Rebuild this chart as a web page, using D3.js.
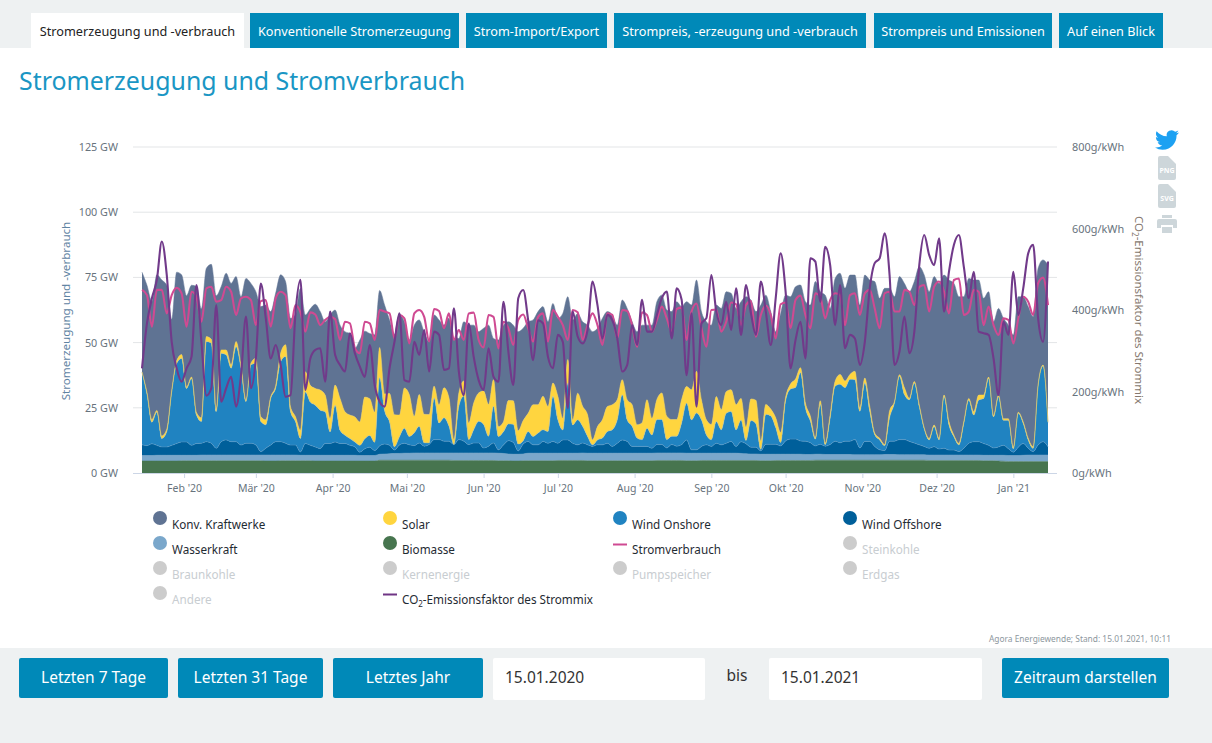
<!DOCTYPE html>
<html>
<head>
<meta charset="utf-8">
<title>Stromerzeugung und Stromverbrauch</title>
<script src="https://cdn.jsdelivr.net/npm/d3@7"></script>
<style>
  html, body { margin: 0; padding: 0; background: #fff; }
  svg { display: block; }
  text { font-family: "Noto Sans", sans-serif; }
</style>
</head>
<body>
<div id="chart"></div>
<script>
// values, one reading every 2 days from 15.01.2020 on

// GW
let biomasse = [
  4.6,4.6,4.6,4.6,4.6,4.6,4.6,4.6,4.7,4.7, 4.7,4.7,4.7,4.7,4.7,4.7,4.7,4.7,4.7,4.7,
  4.7,4.7,4.7,4.7,4.7,4.6,4.6,4.6,4.7,4.7, 4.7,4.7,4.7,4.7,4.7,4.6,4.6,4.6,4.6,4.6,
  4.6,4.6,4.6,4.6,4.6,4.6,4.6,4.6,4.9,4.9, 4.9,4.9,4.9,4.9,4.9,4.9,4.9,4.9,4.9,4.9,
  4.9,4.9,4.9,4.8,4.8,4.8,4.8,4.8,4.8,4.8, 4.8,4.8,4.7,4.7,4.7,4.6,4.6,4.7,4.7,4.7,
  4.7,4.7,4.7,4.7,4.8,4.8,4.8,4.8,4.8,4.8, 4.7,4.7,4.7,4.7,4.7,4.7,4.7,4.7,4.7,4.7,
  4.7,4.7,4.7,4.7,4.8,4.8,4.8,4.8,4.8,4.8, 4.7,4.7,4.7,4.8,4.8,4.8,4.8,4.8,4.8,4.8,
  4.8,4.8,4.8,4.8,4.8,4.7,4.7,4.7,4.8,4.8, 4.8,4.8,4.8,4.8,4.8,4.8,4.9,4.9,4.9,4.9,
  4.9,4.9,4.9,4.9,4.9,4.9,4.9,4.9,4.9,4.9, 4.9,4.9,4.9,4.9,4.9,4.9,4.9,4.9,4.9,4.8,
  4.8,4.8,4.8,4.8,4.8,4.8,4.8,4.8,4.8,4.8, 4.7,4.7,4.7,4.6,4.5,4.4,4.4,4.4,4.4,4.4,
  4.4,4.4,4.4,4.4
]
let wasserkraft = [
  2.1,2.1,2.1,2.2,2.2,2.2,2.2,2.2,2.1,2.1, 2.1,2.1,2.2,2.2,2.2,2.2,2.2,2.2,2.2,2.2,
  2.2,2.2,2.2,2.2,2.2,2.3,2.3,2.3,2.2,2.2, 2.2,2.2,2.1,2.1,2.1,2.2,2.2,2.2,2.2,2.2,
  2.2,2.2,2.2,2.2,2.1,2.1,2.1,2.1,2.3,2.4, 2.5,2.6,2.6,2.7,2.7,2.8,2.8,2.8,2.8,2.8,
  2.8,2.8,2.8,2.9,2.9,2.9,2.9,2.9,2.9,2.9, 2.9,2.9,2.9,2.8,2.6,2.6,2.6,2.6,2.9,2.9,
  2.9,2.9,2.9,2.9,2.8,2.8,2.8,2.8,2.8,2.9, 2.9,2.9,2.9,2.9,2.9,2.9,2.9,2.9,2.9,2.9,
  2.9,2.9,2.9,2.9,2.9,2.9,2.9,2.9,2.9,2.9, 2.9,2.9,2.9,2.8,2.8,2.8,2.8,2.8,2.8,2.8,
  2.8,2.7,2.6,2.5,2.5,2.5,2.5,2.5,2.4,2.4, 2.4,2.4,2.4,2.4,2.3,2.3,2.3,2.3,2.2,2.2,
  2.2,2.2,2.2,2.2,2.1,2.1,2.1,2.1,2.1,2.1, 2.2,2.2,2.2,2.1,2.1,2.1,2.1,2.1,2.1,2.1,
  2.1,2.1,2.1,2.1,2.1,2.1,2.1,2.1,2.1,2.1, 2.1,2.1,2.1,2.2,2.3,2.3,2.3,2.3,2.4,2.5,
  2.5,2.5,2.5,2.5
]
let windOffshore = [
  4.1,3.8,4.5,3.8,3.2,3.2,3.8,4.5,5.1,5.1, 3.8,4.5,4.5,5.1,4.5,2.6,5.1,5.8,5.1,5.1,
  3.8,4.5,4.5,3.8,1.3,2.6,3.8,5.1,5.1,4.5, 3.8,3.8,1.3,4.5,3.8,3.2,2.6,4.5,4.5,5.1,
  4.5,4.5,3.8,3.2,1.3,2.6,3.2,1.9,3.2,3.8, 3.2,1.3,3.2,3.8,3.2,2.8,3.8,2.6,3.2,5.1,
  5.1,4.5,4.5,3.2,5.1,4.5,3.2,3.8,3.8,1.9, 2.6,3.8,1.3,3.2,5.1,4.5,1.3,3.8,4.5,3.2,
  3.2,4.5,3.8,4.5,3.8,5.1,5.1,3.8,3.2,3.8, 3.2,2.6,3.2,3.2,3.8,2.6,3.8,5.1,4.5,2.6,
  2.6,2.6,2.6,1.9,3.2,3.2,1.9,3.2,2.6,3.2, 5.1,1.3,1.3,2.6,3.2,2.6,3.8,3.2,3.8,4.5,
  2.6,4.5,3.8,2.6,2.6,1.3,3.8,3.8,3.8,3.2, 5.1,5.8,5.8,5.1,5.1,4.5,3.2,3.8,3.2,3.8,
  5.1,4.5,5.1,5.1,5.8,2.6,5.1,5.1,3.2,1.9, 1.5,5.1,5.1,5.8,5.8,5.1,4.5,3.8,3.2,2.6,
  3.2,2.3,2.6,1.9,1.9,1.3,2.6,4.5,5.1,5.1, 4.5,3.8,2.8,3.2,3.8,2.6,1.3,3.2,4.5,2.6,
  1.3,3.8,5.1,3.2
]
let windOnshore = [
  27.9,19.8,8.3,12.8,3.2,5.8,20.5,30.7,32,20.5, 25.6,10.9,8.3,38.4,38.4,14.1,33.9,32.6,28.2,36.5,
  29.4,16,30.1,31.4,11.5,9,17.9,20.5,30.7,33.3, 12.8,9,5.1,19.8,16.6,16,14.7,12.2,4.5,14.1,
  5.1,3.2,2.6,1.9,2.6,3.8,4.5,3.2,26.2,12.8, 9,1.3,3.2,5.8,3.2,4.9,6.4,1.3,.6,16,
  6.4,9,5.8,0,12.8,17.3,1.9,5.1,8.3,9, 3.8,14.1,5.1,5.1,6.4,7,2.6,1.3,3.8,3.2,
  4.5,4.5,4.5,17.3,9,3.8,21.8,7,9.6,6.4, 3.2,.6,1.9,2.6,4.5,6.4,9,17.3,8.3,7.7,
  3.2,2.6,7,5.1,9.6,9.6,3.2,3.2,3.8,8.3, 14.1,11.5,14.1,10.2,3.8,2.6,8.3,5.8,11.5,11.5,
  6.4,8.3,1.3,10.2,9,.6,11.5,10.9,6.4,1.3, 15.4,19.2,19.8,26.2,12.8,8.3,2.6,15.4,.6,10.2,
  21.1,22.4,20.5,23.7,23,14.1,22.4,11.5,4.5,3.8, 1.9,9,14.7,24.3,17.3,16,23,14.7,6.7,3.2,
  7.7,3.5,19.8,9.6,5.1,2.6,9.6,16.6,10.2,16, 17.3,25.6,11.9,19.2,9.6,10.9,1.3,13,7.7,3.2,
  1.3,22.7,29,9.2
]
let solar = [
  0,.6,1,.6,1,1,.4,1,1.5,.6, .6,1,1.5,1.9,1.5,1,1.3,1.9,1.3,1.9,
  1,.6,.6,1.9,1.9,1.9,.6,1,3.2,4.5, 1.9,1.9,3.2,7.7,6.4,6.4,7.7,6.4,5.1,7.7,
  12.2,9,9,9.6,9,16,14.1,11.5,11.5,6.4, 10.9,12.2,8.3,15.4,16,6.4,12.2,10.9,10.9,4.5,
  7,11.5,10.9,1.9,5.1,5.8,6.4,10.2,10.9,12.8, 12.2,10.2,3.8,3.8,9,9,5.1,7.7,7,12.2,
  10.9,12.8,9.6,5.1,9,4.5,9,1.9,10.2,7.7, 8.3,1.9,5.1,7,9.6,9.6,7.7,5.8,7.7,8.3,
  5.1,6.4,10.9,6.4,7.7,10.2,9,6.4,6.4,9, 6.4,11.5,16,7.7,5.8,5.8,9.6,7.7,8.3,8.3,
  9.6,8.3,5.1,8.3,9,3.2,3.8,2.6,3.8,3.8, 1.3,1.9,3.2,1.9,1.9,1.9,.6,1.3,.6,1.3,
  1.9,3.8,2.6,1.9,3.2,1.3,1.9,1.9,.6,.6, .4,2.6,.6,.6,2.6,.6,.6,.6,.4,.6,
  .6,.6,.6,1.3,.6,.6,.6,.6,1.3,1.9, 1.3,.6,.6,.6,.6,.6,.6,.4,.6,.6,
  .6,.4,.4,.4
]
// top edge of the whole stack, the grey layer is what is left up to here
let gesamt = [
  77,72,65.7,76,74,72,59,77,76,68, 72,71.5,63,78.5,80,68,71.5,76.6,72.7,75.3,
  67.6,74.6,72.7,69.5,63.8,64.4,61.9,69,76,73.4, 59.3,60.6,70.8,60.6,63,64.7,61.9,58,60.6,62.5,
  56.7,54.2,53.5,47.8,51,54.4,53.5,53,70,64.4, 58.7,53,60.6,58,51,56.7,58.7,54,50.4,60.6,
  58.7,56.7,59.3,51.6,51.6,58,56.7,56.7,54.2,55.5, 56.7,51.6,51,56.7,58,56.7,54.2,55.5,58,58.7,
  61.9,63.8,58,65,59.3,61.2,67.6,58.7,61.2,58, 56.7,54.2,55.5,59.3,61.9,60.6,56.7,66.3,63.1,58,
  54.2,56.7,56.7,56.7,65.7,68.2,62.5,61.9,65.7,63.8, 65.7,64.4,74,61.9,58,56.7,64.4,63.1,69.5,68.9,
  63.1,65.7,67.6,66.3,61.9,64.4,68.2,61.9,54.2,61.2, 68.2,67.6,71.4,72.1,65.7,64.4,73.4,69.5,68.2,63.1,
  74.6,76.6,70.8,75.9,75.9,64.4,75.9,74,73.4,67, 70.8,70.8,67.6,75.3,72.7,69.5,73.4,79.1,75.9,69.5,
  75.3,72.7,75.9,74,72.7,67.6,67.6,74.6,74,74, 67,69.5,58,63.1,59.3,56.7,52.9,67.6,67.6,63.8,
  59.9,78.5,81.7,79.7
]
let stromverbrauch = [
  70.2,68.2,56.1,70.2,70.2,61.2,68.2,71,68.9,56.1, 69.5,67.6,58,70.8,71.4,65.7,66.3,71.4,69.5,60.6,
  67,67.6,66.3,56.7,65.9,66.3,56.1,67,69.5,68.2, 55.5,64.4,61.6,54.2,61.6,60.8,56.7,58.7,59.9,59,
  51,58,57.4,47.8,45.9,58,57.4,51,62.5,61.9, 61.2,51.6,60.6,59.3,49.7,61.2,62.5,59.9,50.4,62.9,
  62.1,55.5,61.2,51,54.8,51,61.2,61.5,51,48.1, 60.6,59.9,47.8,58,55.5,49.1,58.7,60.8,55.5,50.4,
  59.9,61.2,50.4,62.5,59.9,56.7,51,62.5,61.6,51, 56.7,61.2,56.7,49.1,61.2,60.6,51.6,62.5,62.1,56.7,
  48.4,61.6,60.6,54.2,58.7,63.8,59.3,54.2,62.9,63.4, 51,61.9,65,55.5,48.4,62.5,62.7,54.2,58,65.4,
  64.7,56.7,64.4,65.9,52.3,60.6,64.2,60.6,51.6,64.7, 65.4,55.5,66.3,68,60.6,55.5,68.9,67.6,59.3,66.3,
  68.9,68.2,56.7,68.2,68.9,60.6,68.9,70.2,63.1,55.5, 68.9,69.5,61.9,61.9,70.2,69.5,64.4,71.4,72.1,61.9,
  71.4,73.4,69.5,61.2,74,74.6,60.6,61.9,70.2,69.5, 56.7,63.8,56.7,52.9,59.3,58.7,49.7,59.3,67.6,65.7,
  60.6,72.7,74.9,64.4
]
// g/kWh
let co2Faktor = [
  257,367,429,474,568,486,322,257,224,257, 285,461,322,190,208,412,175,208,236,163,
  240,384,208,281,465,380,281,314,265,187, 191,392,474,204,281,302,306,224,396,290,
  265,249,343,294,261,236,314,216,175,163, 257,322,392,228,224,322,290,351,249,347,
  339,253,257,404,249,191,367,285,228,204, 306,236,224,420,298,216,429,449,375,277,
  375,367,285,257,339,322,159,396,335,318, 351,470,412,330,388,375,330,249,265,363,
  314,425,347,347,388,429,445,330,453,425, 240,392,163,367,380,486,396,363,420,351,
  453,339,461,392,339,470,396,314,429,539, 445,257,326,371,281,527,519,420,555,510,
  363,461,306,339,330,265,322,453,515,527, 588,486,265,298,384,294,347,510,584,535,
  510,576,396,494,560,584,506,429,494,347, 343,339,281,191,371,339,494,388,453,539,
  560,380,322,519
]

let monthLabels = ["Feb '20","Mär '20","Apr '20","Mai '20","Jun '20","Jul '20","Aug '20","Sep '20","Okt '20","Nov '20","Dez '20","Jan '21"]
let gwTicks = [0, 25, 50, 75, 100, 125]
let co2Ticks = [0, 200, 400, 600, 800]
let tabLabels = ["Stromerzeugung und -verbrauch","Konventionelle Stromerzeugung","Strom-Import/Export","Strompreis, -erzeugung und -verbrauch","Strompreis und Emissionen","Auf einen Blick"]
let tabEdges = [[31,244],[250,459],[466,607],[614,866],[874,1052],[1059,1163]]

let layerKeys = ["biomasse","wasser","offshore","onshore","solar","konv"]
let layerColors = {biomasse:"#47754f", wasser:"#7aa7cb", offshore:"#005f9a", onshore:"#2083c1", solar:"#ffd53f", konv:"#5f7393"}
let layerEdges = {biomasse:"#47754f", wasser:"#7aa7cb", offshore:"#5c98c4", onshore:"#a3b9a8", solar:"#ffd53f", konv:"#5f7393"}

let legendCols = [160, 390, 620, 850]
let legendRows = [518, 543, 568, 593]
let legendItems = [
  {name:"Konv. Kraftwerke", color:"#5f7393", col:0, row:0},
  {name:"Solar", color:"#ffd53f", col:1, row:0},
  {name:"Wind Onshore", color:"#2083c1", col:2, row:0},
  {name:"Wind Offshore", color:"#005f9a", col:3, row:0},
  {name:"Wasserkraft", color:"#7aa7cb", col:0, row:1},
  {name:"Biomasse", color:"#47754f", col:1, row:1},
  {name:"Stromverbrauch", color:"#cf4a92", col:2, row:1, line:true},
  {name:"Steinkohle", col:3, row:1},
  {name:"Braunkohle", col:0, row:2},
  {name:"Kernenergie", col:1, row:2},
  {name:"Pumpspeicher", col:2, row:2},
  {name:"Erdgas", col:3, row:2},
  {name:"Andere", col:0, row:3},
  {name:"-Emissionsfaktor des Strommix", color:"#6f3585", col:1, row:3, line:true, co2:true}
]

// Settting up svg canvas
let svgWidth = 1212
let svgHeight = 743
let svg = d3.select("#chart").append("svg").attr("width", svgWidth).attr("height", svgHeight)

let teal = "#0089b8"
let pale = "#eef1f2"

// header and footer bands
svg.append("rect").attr("width", svgWidth).attr("height", 48).attr("fill", pale)
svg.append("rect").attr("y", 648).attr("width", svgWidth).attr("height", 95).attr("fill", pale)

tabLabels.forEach((label, i) => {
  let [x0, x1] = tabEdges[i]
  svg.append("rect").attr("x", x0).attr("y", 13).attr("width", x1 - x0).attr("height", 35)
    .attr("fill", i == 0 ? "#fff" : teal)
  svg.append("text").attr("x", (x0 + x1) / 2).attr("y", 36).attr("text-anchor", "middle")
    .attr("font-size", 12.7).attr("fill", i == 0 ? "#222" : "#fff").text(label)
})

svg.append("text").attr("x", 19).attr("y", 90).attr("font-size", 24.9).attr("fill", "#1a96c4")
  .text("Stromerzeugung und Stromverbrauch")

/* CHART */
let startDay = new Date(2020, 0, 15)
let days = stromverbrauch.map((v, i) => d3.timeDay.offset(startDay, i * 2))

let x = d3.scaleTime().domain([startDay, days[days.length - 1]]).range([142, 1048])
let y = d3.scaleLinear().domain([0, 125]).range([473, 147])
let yCo2 = d3.scaleLinear().domain([0, 800]).range([473, 147])

// grid
svg.append("g").selectAll("line").data(gwTicks.slice(1)).join("line")
  .attr("x1", 133).attr("x2", 1057).attr("y1", d => y(d)).attr("y2", d => y(d))
  .attr("stroke", "#e3e5e7")

let rows = days.map((d, i) => ({
  day: d,
  biomasse: biomasse[i],
  wasser: wasserkraft[i],
  offshore: windOffshore[i],
  onshore: windOnshore[i],
  solar: solar[i],
  konv: Math.max(0, gesamt[i] - biomasse[i] - wasserkraft[i] - windOffshore[i] - windOnshore[i] - solar[i])
}))

let curve = d3.curveMonotoneX
let stacked = d3.stack().keys(layerKeys)(rows)
let area = d3.area().curve(curve).x(d => x(d.data.day)).y0(d => y(d[0])).y1(d => y(d[1]))
let topEdge = d3.line().curve(curve).x(d => x(d.data.day)).y(d => y(d[1]))

svg.append("g").selectAll("path").data(stacked).join("path")
  .attr("d", area).attr("fill", d => layerColors[d.key])
svg.append("g").selectAll("path").data(stacked).join("path")
  .attr("d", topEdge).attr("fill", "none").attr("stroke", d => layerEdges[d.key]).attr("stroke-width", 0.5)

let demandLine = d3.line().curve(curve).x((d, i) => x(days[i])).y(d => y(d))
svg.append("path").attr("d", demandLine(stromverbrauch)).attr("fill", "none")
  .attr("stroke", "#cf4a92").attr("stroke-width", 2.1).attr("stroke-linejoin", "round")

let co2Line = d3.line().curve(curve).x((d, i) => x(days[i])).y(d => yCo2(d))
svg.append("path").attr("d", co2Line(co2Faktor)).attr("fill", "none")
  .attr("stroke", "#713a8a").attr("stroke-width", 2.1).attr("stroke-linejoin", "round")

// axes
let monthTicks = d3.timeMonth.range(new Date(2020, 1, 1), new Date(2021, 1, 1))
let xAxis = svg.append("g").attr("transform", "translate(0,473)")
  .call(d3.axisBottom(x).tickValues(monthTicks).tickSize(5).tickPadding(7)
    .tickFormat((d, i) => monthLabels[i]))
xAxis.select(".domain").remove()
xAxis.selectAll("line").attr("stroke", "#ccd6e6")
xAxis.selectAll("text").attr("font-size", 10.5).attr("fill", "#67737d").attr("font-family", '"Noto Sans", sans-serif')
svg.append("line").attr("x1", 133).attr("x2", 1057).attr("y1", 473.5).attr("y2", 473.5).attr("stroke", "#ccd6e6")

let yAxis = svg.append("g").attr("transform", "translate(118,0)")
  .call(d3.axisLeft(y).tickValues(gwTicks).tickSize(0).tickPadding(0).tickFormat(d => d + " GW"))
yAxis.select(".domain").remove()
yAxis.selectAll("text").attr("font-size", 10.8).attr("fill", "#67737d").attr("font-family", '"Noto Sans", sans-serif')

let yAxisRight = svg.append("g").attr("transform", "translate(1072,0)")
  .call(d3.axisRight(yCo2).tickValues(co2Ticks).tickSize(0).tickPadding(0).tickFormat(d => d + "g/kWh"))
yAxisRight.select(".domain").remove()
yAxisRight.selectAll("text").attr("font-size", 10.9).attr("fill", "#67737d").attr("font-family", '"Noto Sans", sans-serif')

svg.append("text").attr("transform", "translate(70,311) rotate(-90)").attr("text-anchor", "middle")
  .attr("font-size", 11.6).attr("fill", "#5f84a3").text("Stromerzeugung und -verbrauch")

let rightTitle = svg.append("text").attr("transform", "translate(1135,310) rotate(90)").attr("text-anchor", "middle")
  .attr("font-size", 11.5).attr("fill", "#85786e")
rightTitle.append("tspan").text("CO")
rightTitle.append("tspan").attr("font-size", 8).attr("dy", 3).text("2")
rightTitle.append("tspan").attr("dy", -3).text("-Emissionsfaktor des Strommix")

/* LEGEND */
legendItems.forEach(item => {
  let cx = legendCols[item.col]
  let cy = legendRows[item.row]
  if (item.line) {
    let lx = cx - 7
    svg.append("line").attr("x1", lx).attr("x2", lx + 14).attr("y1", cy + 1.5).attr("y2", cy + 1.5)
      .attr("stroke", item.color).attr("stroke-width", 2)
  } else {
    svg.append("circle").attr("cx", cx).attr("cy", cy).attr("r", 7).attr("fill", item.color || "#cccccc")
  }
  let label = svg.append("text").attr("x", cx + 12).attr("y", cy + 11).attr("font-size", 11.7)
    .attr("fill", item.color ? "#1f2b33" : "#c8cdd1")
  if (item.co2) {
    label.append("tspan").text("CO")
    label.append("tspan").attr("font-size", 8).attr("dy", 3).text("2")
    label.append("tspan").attr("dy", -3).text(item.name)
  } else {
    label.text(item.name)
  }
})

svg.append("text").attr("x", 1171).attr("y", 642).attr("text-anchor", "end").attr("font-size", 8.4)
  .attr("fill", "#8d979e").text("Agora Energiewende; Stand: 15.01.2021, 10:11")

/* ICONS */
let icons = svg.append("g")
icons.append("path").attr("transform", "translate(1155,128) scale(1)")
  .attr("fill", "#1da1f2")
  .attr("d", "M23.953 4.57a10 10 0 01-2.825.775 4.958 4.958 0 002.163-2.723c-.951.555-2.005.959-3.127 1.184a4.92 4.92 0 00-8.384 4.482C7.69 8.095 4.067 6.13 1.64 3.162a4.822 4.822 0 00-.666 2.475c0 1.71.87 3.213 2.188 4.096a4.904 4.904 0 01-2.228-.616v.06a4.923 4.923 0 003.946 4.827 4.996 4.996 0 01-2.212.085 4.936 4.936 0 004.604 3.417 9.867 9.867 0 01-6.102 2.105c-.39 0-.779-.023-1.17-.067a13.995 13.995 0 007.557 2.209c9.053 0 13.998-7.496 13.998-13.985 0-.21 0-.42-.015-.63A9.935 9.935 0 0024 4.59z")
;[["PNG", 156], ["SVG", 184]].forEach(([name, top]) => {
  icons.append("path").attr("transform", `translate(1158,${top})`).attr("fill", "#cdd6da")
    .attr("d", "M2 0H10L18 8V22a2 2 0 0 1-2 2H2a2 2 0 0 1-2-2V2a2 2 0 0 1 2-2z")
  icons.append("text").attr("x", 1167).attr("y", top + 17).attr("text-anchor", "middle")
    .attr("font-size", 7).attr("font-weight", "bold").attr("fill", "#fff").text(name)
})
icons.append("path").attr("fill", "#cdd6da")
  .attr("d", "M1162 215h10v3h-10zM1159 219h16a2 2 0 0 1 2 2v7h-4v-3h-12v3h-4v-7a2 2 0 0 1 2-2zM1162 227h10v6h-10z")

/* CONTROLS */
let buttons = [["Letzten 7 Tage", 19, 168], ["Letzten 31 Tage", 178, 323], ["Letztes Jahr", 333, 483], ["Zeitraum darstellen", 1002, 1169]]
buttons.forEach(([label, x0, x1]) => {
  svg.append("rect").attr("x", x0).attr("y", 658).attr("width", x1 - x0).attr("height", 40).attr("rx", 2).attr("fill", teal)
  svg.append("text").attr("x", (x0 + x1) / 2).attr("y", 683).attr("text-anchor", "middle")
    .attr("font-size", 15.5).attr("fill", "#fff").text(label)
})
let inputs = [["15.01.2020", 493, 705], ["15.01.2021", 769, 982]]
inputs.forEach(([label, x0, x1]) => {
  svg.append("rect").attr("x", x0).attr("y", 658).attr("width", x1 - x0).attr("height", 42).attr("rx", 2).attr("fill", "#fff")
  svg.append("text").attr("x", x0 + 12).attr("y", 683).attr("font-size", 15.5).attr("fill", "#333").text(label)
})
svg.append("text").attr("x", 737).attr("y", 681).attr("text-anchor", "middle").attr("font-size", 15.5).attr("fill", "#333").text("bis")
</script>
</body>
</html>
